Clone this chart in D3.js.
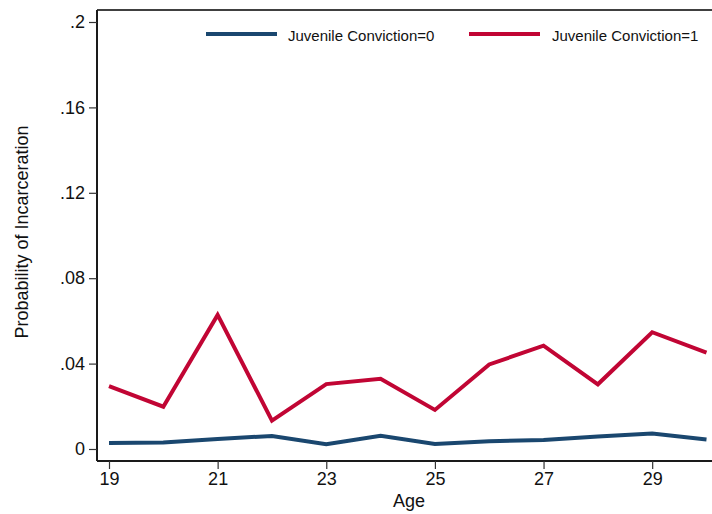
<!DOCTYPE html>
<html>
<head>
<meta charset="utf-8">
<script src="https://cdn.jsdelivr.net/npm/d3@7"></script>
<style>
  html, body { margin: 0; padding: 0; background: #fff; }
  svg { display: block; font-family: "Liberation Sans", Arial, Helvetica, sans-serif; }
</style>
</head>
<body>
<svg id="chart" width="712" height="514"></svg>
<script>
// Predicted probability of incarceration by age
const ages = [19, 20, 21, 22, 23, 24, 25, 26, 27, 28, 29, 30];
const convicted0 = [0.0028, 0.0031, 0.0047, 0.0061, 0.0022, 0.0062, 0.0023, 0.0036, 0.0042, 0.0058, 0.0072, 0.0045];
const convicted1 = [0.0295, 0.0198, 0.0628, 0.0133, 0.0304, 0.0329, 0.0183, 0.0396, 0.0484, 0.0303, 0.0547, 0.0451];
const yTicks = [0, 0.04, 0.08, 0.12, 0.16, 0.2];
const xTicks = [19, 21, 23, 25, 27, 29];
const seriesNames = ["Juvenile Conviction=0", "Juvenile Conviction=1"];
const seriesColors = ["#1a476f", "#c10534"];

const svg = d3.select("#chart");
const plotLeft = 97, plotRight = 712, plotTop = 10, plotBottom = 461;

const x = d3.scaleLinear().domain([19, 30]).range([109, 706.5]);
const y = d3.scaleLinear().domain([0, 0.2]).range([449, 22]);

const fmt = d => d === 0 ? "0" : d3.format(".2~f")(d).replace(/^0/, "");

// frame: top edge and axes
svg.append("line").attr("x1", plotLeft).attr("x2", plotRight).attr("y1", plotTop).attr("y2", plotTop)
  .attr("stroke", "#000").attr("stroke-width", 1.5);

const yAxis = svg.append("g").attr("transform", `translate(${plotLeft},0)`)
  .call(d3.axisLeft(y).tickValues(yTicks).tickFormat(fmt).tickSize(8).tickPadding(4));
yAxis.select(".domain").attr("d", `M0,${plotTop}V${plotBottom}`).attr("stroke", "#1a1a1a").attr("stroke-width", 2);
yAxis.selectAll(".tick line").attr("stroke", "#333").attr("stroke-width", 1.2);
yAxis.selectAll(".tick text").attr("font-size", 18).attr("fill", "#111").attr("font-family", null);

const xAxis = svg.append("g").attr("transform", `translate(0,${plotBottom})`)
  .call(d3.axisBottom(x).tickValues(xTicks).tickFormat(d3.format("d")).tickSize(8).tickPadding(3));
xAxis.select(".domain").attr("d", `M${plotLeft},0H${plotRight}`).attr("stroke", "#1a1a1a").attr("stroke-width", 2);
xAxis.selectAll(".tick line").attr("stroke", "#333").attr("stroke-width", 1.2);
xAxis.selectAll(".tick text").attr("font-size", 18).attr("fill", "#111").attr("font-family", null);

// axis titles
svg.append("text").attr("x", 409).attr("y", 507).attr("text-anchor", "middle")
  .attr("font-size", 18).attr("fill", "#111").text("Age");
svg.append("text").attr("transform", "translate(28,232) rotate(-90)").attr("text-anchor", "middle")
  .attr("font-size", 18).attr("fill", "#111").text("Probability of Incarceration");

// series lines
const line = d3.line().x((d, i) => x(ages[i])).y(d => y(d));
[convicted0, convicted1].forEach((vals, k) => {
  svg.append("path").datum(vals).attr("d", line)
    .attr("fill", "none").attr("stroke", seriesColors[k]).attr("stroke-width", 4)
    .attr("stroke-linejoin", "miter");
});

// legend
const legendItems = [
  { x0: 206, x1: 277, tx: 288 },
  { x0: 469, x1: 540, tx: 552 }
];
legendItems.forEach((it, k) => {
  svg.append("line").attr("x1", it.x0).attr("x2", it.x1).attr("y1", 34).attr("y2", 34)
    .attr("stroke", seriesColors[k]).attr("stroke-width", 4);
  svg.append("text").attr("x", it.tx).attr("y", 40.5).attr("font-size", 15).attr("fill", "#111")
    .text(seriesNames[k]);
});
</script>
</body>
</html>
